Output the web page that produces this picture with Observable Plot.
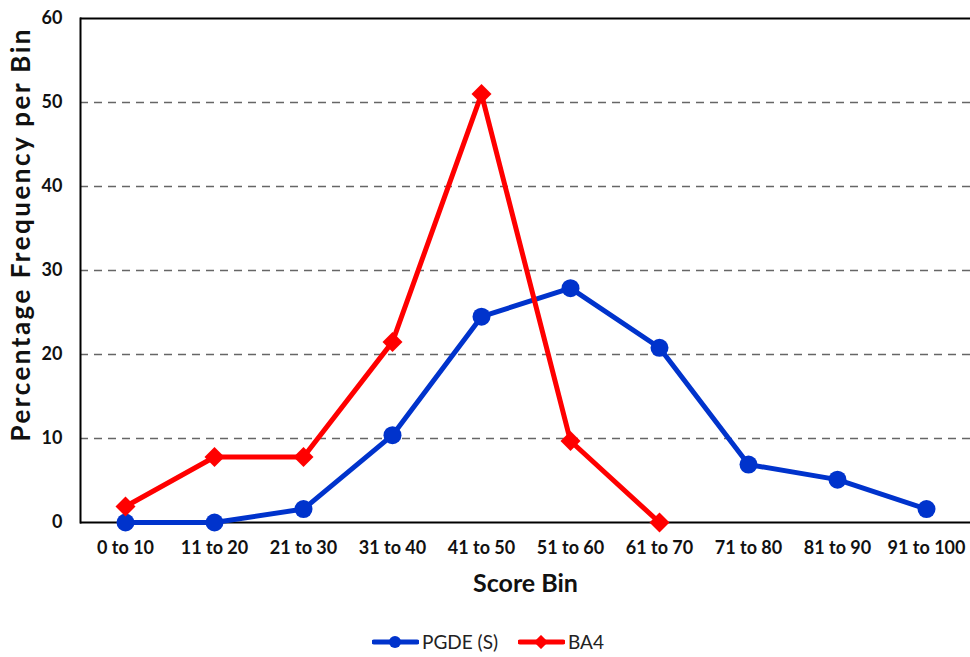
<!DOCTYPE html>
<html>
<head>
<meta charset="utf-8">
<script src="https://cdn.jsdelivr.net/npm/d3@7"></script>
<script src="https://cdn.jsdelivr.net/npm/@observablehq/plot@0.6"></script>
<style>
  body { margin: 0; background: #fff; font-family: Lato, sans-serif; }
  #legend { height: 37px; display: flex; justify-content: center; align-items: center; gap: 20px; font-size: 19px; color: #222; padding-top: 6px; box-sizing: border-box; padding-left: 6px; }
  #legend .item { display: flex; align-items: center; gap: 3px; }
</style>
</head>
<body>
<div id="chart"></div>
<div id="legend"></div>
<script>
const categories = ["0 to 10", "11 to 20", "21 to 30", "31 to 40", "41 to 50", "51 to 60", "61 to 70", "71 to 80", "81 to 90", "91 to 100"];
const pgdeValues = [0, 0, 1.6, 10.4, 24.5, 27.9, 20.8, 6.9, 5.1, 1.6];
const ba4Values = [1.9, 7.8, 7.8, 21.5, 51, 9.7, 0, null, null, null];
const yTicks = [0, 10, 20, 30, 40, 50, 60];
const gridTicks = [10, 20, 30, 40, 50];
const seriesNames = ["PGDE (S)", "BA4"];
const seriesColors = ["#0033cc", "#ff0000"];
const yTitle = "Percentage Frequency per Bin";
const xTitle = "Score Bin";

const pgde = categories.map((c, i) => ({bin: c, value: pgdeValues[i], series: seriesNames[0]}));
const ba4 = categories.map((c, i) => ({bin: c, value: ba4Values[i], series: seriesNames[1]})).filter(d => d.value != null);

const font = "Lato, sans-serif";

const plot = Plot.plot({
  width: 970,
  height: 620,
  marginTop: 18,
  marginBottom: 98,
  marginLeft: 80,
  marginRight: 0,
  style: {fontFamily: font, background: "#fff", overflow: "visible"},
  x: {type: "point", domain: categories, padding: 0.5, label: null},
  y: {domain: [0, 60], label: null},
  marks: [
    Plot.ruleY(gridTicks, {stroke: "#666", strokeWidth: 1.6, strokeDasharray: "8,6"}),
    Plot.ruleY([60], {stroke: "#000", strokeWidth: 2}),
    Plot.ruleY([0], {stroke: "#000", strokeWidth: 2}),
    Plot.axisY({ticks: yTicks, tickSize: 0, tickPadding: 18, fontSize: 18, fontWeight: "bold", fill: "#111", label: null}),
    Plot.axisX({tickSize: 0, tickPadding: 19, fontSize: 18, fontWeight: "bold", fill: "#111", label: null}),
    Plot.frame({anchor: "left", stroke: "#000", strokeWidth: 2}),
    Plot.text([yTitle], {frameAnchor: "left", textAnchor: "middle", lineAnchor: "middle", dx: -59, dy: -35, rotate: -90, fontSize: 26, fontWeight: "bold", fill: "#111"}),
    Plot.text([xTitle], {frameAnchor: "bottom", dy: 69, fontSize: 25, fontWeight: "bold", fill: "#111"}),
    Plot.line(pgde, {x: "bin", y: "value", stroke: seriesColors[0], strokeWidth: 5}),
    Plot.dot(pgde, {x: "bin", y: "value", fill: seriesColors[0], r: 9, symbol: "circle"}),
    Plot.line(ba4, {x: "bin", y: "value", stroke: seriesColors[1], strokeWidth: 5}),
    Plot.dot(ba4, {x: "bin", y: "value", fill: seriesColors[1], r: 9, symbol: "diamond2"})
  ]
});
document.getElementById("chart").appendChild(plot);

// stretch the y title to the reference's span
d3.select(plot).selectAll("text").filter(function() { return this.textContent === yTitle; })
  .attr("textLength", 412).attr("lengthAdjust", "spacing");

const legend = document.getElementById("legend");
seriesNames.forEach((name, i) => {
  const item = document.createElement("div");
  item.className = "item";
  const marker = i === 0
    ? `<circle cx="23" cy="7" r="6" fill="${seriesColors[i]}"/>`
    : `<rect x="18" y="2" width="10" height="10" fill="${seriesColors[i]}" transform="rotate(45 23 7)"/>`;
  item.innerHTML = `<svg width="47" height="14"><line x1="2" y1="7" x2="45" y2="7" stroke="${seriesColors[i]}" stroke-width="5" stroke-linecap="round"/>${marker}</svg><span>${name}</span>`;
  legend.appendChild(item);
});
</script>
</body>
</html>
